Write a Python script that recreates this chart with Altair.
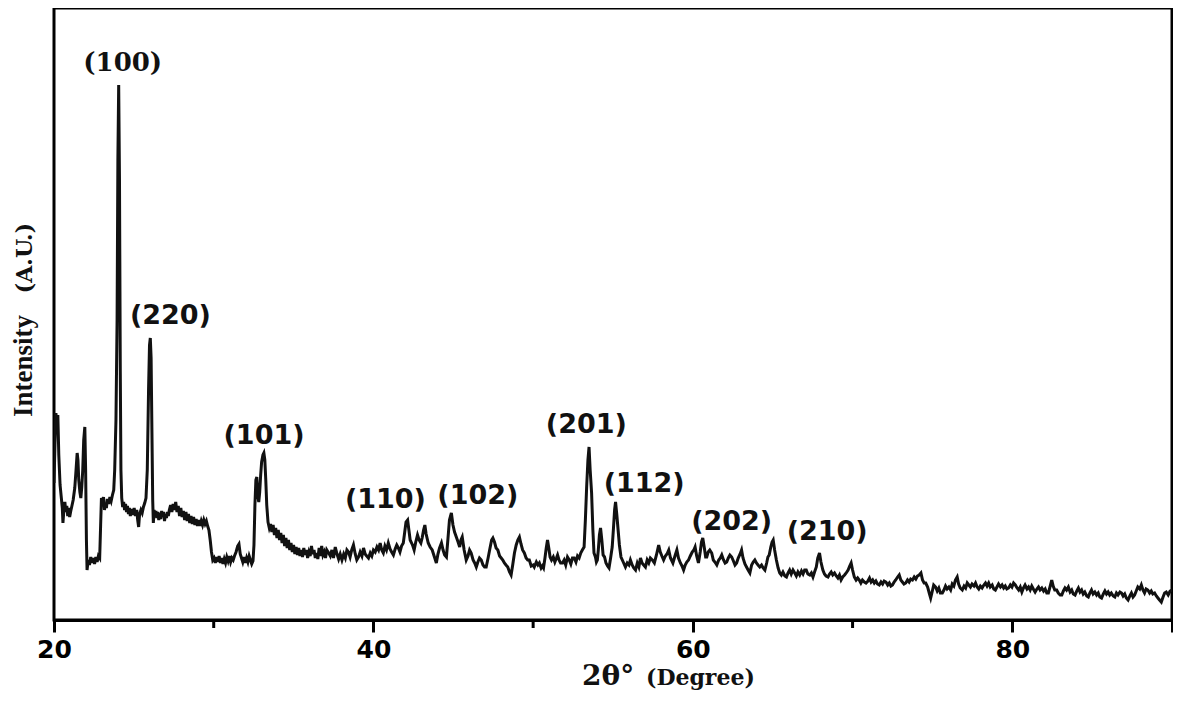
import altair as alt
import pandas as pd

# ---- XRD pattern (2theta in degrees, intensity in arbitrary units) ----
two_theta = [
    20.00, 20.06, 20.12, 20.18, 20.24, 20.30, 20.38, 20.46, 20.52, 20.56, 20.62, 20.68, 20.74, 20.80, 20.86, 20.92, 20.98,
    21.05, 21.12, 21.20, 21.30, 21.38, 21.45, 21.50, 21.55, 21.62, 21.68, 21.74, 21.80, 21.86, 21.93, 21.98,
    22.03, 22.07, 22.14, 22.22, 22.30, 22.38, 22.46, 22.54, 22.62, 22.70, 22.78, 22.86, 22.92, 22.97,
    23.04, 23.10, 23.16, 23.22, 23.28, 23.34, 23.42, 23.50, 23.58, 23.66, 23.74, 23.80, 23.88, 23.95, 24.00,
    24.05, 24.10, 24.15, 24.19, 24.24, 24.30, 24.36, 24.42, 24.48, 24.54, 24.60, 24.66, 24.72, 24.78, 24.86, 24.94,
    25.02, 25.10, 25.18, 25.24, 25.30, 25.36, 25.44, 25.52, 25.60, 25.68, 25.76, 25.84, 25.92, 25.98, 26.03,
    26.08, 26.13, 26.18, 26.22, 26.27, 26.32, 26.38, 26.44, 26.50, 26.56, 26.62, 26.68, 26.74, 26.80, 26.86, 26.92, 26.98,
    27.04, 27.10, 27.16, 27.22, 27.30, 27.38, 27.46, 27.54, 27.62, 27.70, 27.78, 27.86, 27.94,
    28.02, 28.10, 28.18, 28.26, 28.34, 28.42, 28.50, 28.58, 28.66, 28.74, 28.82, 28.90, 28.98,
    29.06, 29.14, 29.22, 29.30, 29.38, 29.46, 29.54, 29.62, 29.70, 29.78, 29.86, 29.94,
    30.02, 30.10, 30.18, 30.26, 30.34, 30.42, 30.50, 30.58, 30.66, 30.74, 30.82, 30.90, 30.98,
    31.06, 31.14, 31.22, 31.30, 31.40, 31.50, 31.58, 31.66, 31.74, 31.82, 31.90, 31.98,
    32.06, 32.14, 32.22, 32.30, 32.38, 32.46, 32.52, 32.58, 32.64, 32.70, 32.76, 32.82, 32.88, 32.94,
    33.00, 33.08, 33.14, 33.20, 33.26, 33.32, 33.40, 33.48, 33.56, 33.64, 33.72, 33.80, 33.88, 33.96,
    34.04, 34.12, 34.20, 34.28, 34.36, 34.44, 34.52, 34.60, 34.68, 34.76, 34.84, 34.92,
    35.00, 35.08, 35.16, 35.24, 35.32, 35.40, 35.48, 35.56, 35.64, 35.72, 35.80, 35.88, 35.96,
    36.04, 36.12, 36.20, 36.28, 36.36, 36.44, 36.52, 36.60, 36.68, 36.76, 36.84, 36.92,
    37.00, 37.08, 37.20, 37.30, 37.40, 37.50, 37.61, 37.72, 37.82, 37.92,
    38.03, 38.14, 38.24, 38.34, 38.44, 38.54, 38.64, 38.75, 38.86, 38.96,
    39.07, 39.17, 39.28, 39.38, 39.48, 39.58, 39.69, 39.80, 39.90,
    40.00, 40.11, 40.22, 40.32, 40.42, 40.52, 40.62, 40.72, 40.82, 40.93,
    41.04, 41.14, 41.25, 41.36, 41.46, 41.56, 41.66, 41.76, 41.87, 41.96,
    42.04, 42.14, 42.22, 42.30, 42.39, 42.47, 42.55, 42.65, 42.76, 42.86, 42.97,
    43.05, 43.14, 43.22, 43.30, 43.43, 43.55, 43.68, 43.80, 43.94,
    44.04, 44.14, 44.26, 44.36, 44.46, 44.57, 44.66, 44.76, 44.88, 44.98,
    45.08, 45.19, 45.30, 45.40, 45.48, 45.56, 45.68, 45.81, 45.92,
    46.02, 46.12, 46.24, 46.34, 46.44, 46.54, 46.64, 46.75, 46.86, 46.96,
    47.06, 47.18, 47.30, 47.40, 47.48, 47.58, 47.68, 47.79, 47.90,
    48.00, 48.10, 48.20, 48.30, 48.41, 48.52, 48.62, 48.72, 48.83, 48.94,
    49.04, 49.14, 49.24, 49.34, 49.45, 49.56, 49.66, 49.76, 49.88,
    50.00, 50.07, 50.20, 50.30, 50.39, 50.50, 50.58, 50.65, 50.74, 50.82, 50.90, 50.98,
    51.06, 51.15, 51.26, 51.36, 51.46, 51.53, 51.62, 51.72, 51.84, 51.94,
    52.04, 52.15, 52.26, 52.36, 52.46, 52.57, 52.68, 52.78, 52.88, 52.98,
    53.08, 53.19, 53.27, 53.35, 53.43, 53.50, 53.57, 53.66, 53.74, 53.81, 53.90, 53.96,
    54.02, 54.08, 54.15, 54.22, 54.30, 54.38, 54.47, 54.56, 54.66, 54.75, 54.85, 54.95,
    55.03, 55.10, 55.16, 55.24, 55.32, 55.40, 55.50, 55.64, 55.78, 55.89,
    56.00, 56.09, 56.20, 56.30, 56.41, 56.52, 56.62, 56.72, 56.82, 56.92,
    57.03, 57.14, 57.24, 57.34, 57.46, 57.59, 57.72, 57.86, 57.96,
    58.06, 58.17, 58.28, 58.38, 58.49, 58.60, 58.75, 58.88,
    59.00, 59.10, 59.22, 59.32, 59.42, 59.52, 59.62, 59.73, 59.84, 59.96,
    60.06, 60.14, 60.24, 60.35, 60.46, 60.54, 60.62, 60.72, 60.80, 60.87, 60.96,
    61.06, 61.18, 61.28, 61.38, 61.50, 61.62, 61.72, 61.81, 61.92,
    62.02, 62.12, 62.22, 62.32, 62.43, 62.54, 62.64, 62.74, 62.84, 62.96,
    63.05, 63.14, 63.26, 63.36, 63.46, 63.57, 63.68, 63.78, 63.88, 63.98,
    64.08, 64.19, 64.30, 64.40, 64.51, 64.62, 64.70, 64.78, 64.88, 64.96,
    65.03, 65.12, 65.23, 65.34, 65.44, 65.54, 65.64, 65.76, 65.86, 65.96,
    66.06, 66.16, 66.27, 66.38, 66.48, 66.58, 66.69, 66.80, 66.90,
    67.00, 67.10, 67.20, 67.32, 67.42, 67.52, 67.62, 67.73, 67.82, 67.93,
    68.02, 68.14, 68.24, 68.34, 68.46, 68.56, 68.66, 68.76, 68.87, 68.98,
    69.08, 69.18, 69.28, 69.38, 69.50, 69.60, 69.72, 69.82, 69.91,
    70.00, 70.11, 70.22, 70.32, 70.42, 70.52, 70.62, 70.74, 70.84, 70.96,
    71.06, 71.16, 71.26, 71.36, 71.46, 71.56, 71.67, 71.78, 71.88, 71.98,
    72.09, 72.20, 72.30, 72.40, 72.50, 72.60, 72.70, 72.82, 72.92,
    73.02, 73.12, 73.22, 73.33, 73.44, 73.54, 73.64, 73.75, 73.86, 73.96,
    74.06, 74.17, 74.28, 74.38, 74.48, 74.58, 74.70, 74.80, 74.89, 74.98,
    75.08, 75.20, 75.30, 75.40, 75.50, 75.62, 75.72, 75.82, 75.92,
    76.03, 76.14, 76.24, 76.34, 76.44, 76.55, 76.64, 76.74, 76.87, 76.98,
    77.08, 77.18, 77.28, 77.38, 77.48, 77.60, 77.70, 77.80, 77.90,
    78.00, 78.11, 78.22, 78.32, 78.42, 78.52, 78.62, 78.74, 78.84, 78.94,
    79.04, 79.14, 79.26, 79.36, 79.46, 79.56, 79.66, 79.77, 79.88, 79.98,
    80.08, 80.19, 80.30, 80.40, 80.50, 80.60, 80.70, 80.80, 80.92,
    81.02, 81.12, 81.22, 81.32, 81.43, 81.54, 81.64, 81.74, 81.85, 81.96,
    82.06, 82.16, 82.26, 82.36, 82.47, 82.56, 82.66, 82.78, 82.88,
    83.00, 83.10, 83.20, 83.30, 83.40, 83.51, 83.62, 83.72, 83.82, 83.93,
    84.04, 84.14, 84.24, 84.34, 84.44, 84.54, 84.66, 84.76, 84.86, 84.96,
    85.06, 85.17, 85.28, 85.38, 85.48, 85.59, 85.70, 85.80, 85.90,
    86.00, 86.10, 86.20, 86.32, 86.42, 86.52, 86.62, 86.74, 86.84, 86.94,
    87.04, 87.14, 87.25, 87.36, 87.46, 87.56, 87.66, 87.76, 87.86, 87.98,
    88.08, 88.18, 88.28, 88.38, 88.49, 88.60, 88.70, 88.80, 88.91,
    89.02, 89.12, 89.22, 89.33, 89.44, 89.54, 89.64, 89.76, 89.88, 90.00,
]

intensity = [
    137, 175, 207, 195, 205, 165, 135, 122, 112, 97, 110, 118, 108, 114, 104, 112, 103,
    109, 114, 120, 132, 150, 167, 160, 140, 128, 122, 133, 150, 180, 193, 150,
    80, 50, 60, 55, 63, 57, 62, 56, 63, 58, 64, 62, 95, 122,
    118, 123, 110, 117, 112, 121, 116, 123, 119, 125, 130, 150, 200, 300, 460,
    535, 440, 250, 150, 122, 113, 118, 110, 116, 108, 114, 106, 112, 104, 111, 105,
    112, 104, 110, 100, 93, 106, 110, 107, 113, 117, 122, 150, 230, 275, 282,
    262, 190, 120, 97, 110, 103, 109, 102, 108, 100, 107, 101, 109, 103, 108, 99, 106,
    102, 108, 104, 110, 115, 108, 116, 110, 118, 108, 114, 104, 112,
    103, 109, 100, 108, 99, 106, 97, 104, 96, 103, 95, 101, 94,
    100, 94, 99, 95, 100, 96, 99, 94, 90, 80, 68, 60,
    62, 57, 63, 58, 64, 57, 62, 56, 61, 57, 63, 59, 64,
    58, 62, 60, 64, 68, 74, 76, 66, 62, 58, 63, 57,
    62, 58, 64, 60, 56, 59, 75, 115, 140, 143, 125, 118, 128, 145,
    158, 165, 167, 160, 140, 115, 98, 92, 96, 88, 95, 85, 92, 82,
    90, 80, 87, 77, 85, 74, 82, 72, 80, 70, 77, 68,
    75, 66, 73, 65, 72, 64, 70, 63, 72, 65, 70, 62, 68,
    64, 74, 66, 70, 62, 67, 61, 72, 64, 74, 65, 68,
    62, 70, 67, 64, 70, 62, 73, 66, 61, 66,
    60, 66, 62, 70, 68, 63, 70, 75, 66, 60,
    63, 68, 64, 72, 66, 64, 62, 67, 64,
    70, 68, 73, 70, 77, 70, 67, 74, 70, 77,
    71, 68, 65, 71, 75, 72, 68, 74, 77, 88,
    98, 100, 90, 80, 77, 74, 70, 78, 85, 80, 77,
    82, 90, 95, 86, 77, 73, 70, 64, 57,
    66, 72, 77, 70, 65, 63, 80, 100, 107, 95,
    88, 83, 78, 73, 80, 83, 70, 60, 64,
    70, 67, 60, 57, 53, 58, 62, 60, 55, 53,
    53, 62, 72, 80, 82, 78, 72, 70, 64,
    62, 60, 57, 55, 53, 48, 45, 55, 67, 75,
    80, 83, 76, 70, 67, 62, 60, 60, 54,
    55, 53, 58, 55, 57, 52, 54, 52, 62, 72, 80, 72,
    63, 60, 63, 58, 62, 65, 60, 57, 57, 60,
    55, 63, 60, 56, 62, 62, 58, 64, 62, 67,
    70, 73, 100, 133, 160, 173, 150, 127, 90, 67, 63, 58,
    60, 70, 85, 92, 80, 65, 63, 57, 54, 52, 62, 73,
    92, 110, 118, 105, 90, 75, 63, 58, 53, 57,
    55, 60, 55, 52, 50, 57, 53, 62, 57, 55,
    53, 60, 57, 62, 60, 57, 65, 75, 68,
    64, 60, 64, 66, 70, 62, 57, 64,
    70, 62, 57, 54, 50, 55, 58, 60, 64, 68,
    70, 73, 64, 57, 68, 78, 82, 72, 63, 63, 68,
    70, 67, 60, 58, 55, 60, 62, 65, 60,
    57, 58, 62, 65, 63, 59, 55, 57, 62, 66,
    70, 62, 56, 53, 50, 47, 55, 58, 60, 57,
    55, 53, 55, 52, 50, 57, 63, 65, 73, 78,
    80, 70, 60, 52, 47, 45, 48, 44, 43, 47,
    50, 46, 50, 47, 44, 48, 45, 49, 46,
    50, 50, 46, 45, 47, 43, 48, 53, 62, 67,
    58, 50, 46, 44, 43, 46, 48, 45, 47, 44,
    42, 45, 40, 43, 45, 47, 50, 54, 57,
    50, 43, 40, 42, 40, 37, 40, 38, 37, 39,
    42, 38, 40, 37, 39, 36, 35, 38, 36, 39,
    38, 35, 37, 34, 35, 38, 40, 43, 45,
    40, 38, 36, 37, 40, 38, 41, 40, 43, 41,
    44, 45, 47, 40, 37, 37, 33, 27, 22, 28,
    35, 33, 29, 32, 27, 27, 30, 34, 31,
    33, 30, 36, 34, 40, 43, 36, 32, 30, 34,
    32, 37, 35, 33, 36, 34, 37, 33, 31,
    34, 32, 35, 37, 34, 37, 33, 35, 31, 30,
    33, 36, 33, 35, 32, 34, 31, 32, 35, 33,
    37, 35, 32, 30, 33, 28, 32, 35, 31,
    33, 30, 34, 31, 28, 31, 33, 30, 32, 29,
    31, 27, 27, 33, 40, 34, 30, 30, 27,
    25, 25, 29, 32, 30, 33, 28, 30, 26, 25,
    29, 32, 28, 30, 26, 28, 24, 23, 27, 30,
    26, 28, 25, 27, 23, 22, 26, 29, 26,
    28, 25, 27, 24, 23, 27, 25, 28, 27, 24,
    26, 22, 20, 24, 27, 23, 25, 29, 33, 31,
    35, 30, 27, 31, 30, 27, 29, 26, 27,
    24, 22, 20, 18, 23, 27, 28, 25, 29, 30,
]

# ---- Peak (hkl) annotations ----
peak_labels = ["(100)", "(220)", "(101)", "(110)", "(102)", "(201)", "(112)", "(202)", "(210)"]
peak_label_x = [24.30, 27.29, 33.15, 40.75, 46.54, 53.33, 56.95, 62.43, 68.41]
peak_label_y = [557, 304, 184, 120, 124, 195, 136, 98, 88]
peak_label_font = ["serif", "sans", "sans", "sans", "sans", "sans", "sans", "sans", "sans"]

major_ticks = [20, 40, 60, 80, 90]
minor_ticks = [30, 50, 70]

W, H = 1118, 612

df = pd.DataFrame({"two_theta": two_theta, "intensity": intensity})
labels_df = pd.DataFrame({"two_theta": peak_label_x, "intensity": peak_label_y,
                          "label": peak_labels, "font": peak_label_font})
minor_df = pd.DataFrame({"two_theta": minor_ticks})

x_scale = alt.Scale(domain=[20, 90], nice=False, zero=False)
y_scale = alt.Scale(domain=[0, H], nice=False, zero=False)
x_axis = alt.Axis(values=major_ticks, labelExpr="datum.value == 90 ? '' : datum.label",
                  title=None, grid=False, tickSize=12, tickWidth=3, tickColor="black",
                  domainWidth=3, domainColor="black", labelPadding=5,
                  labelFlush=False, labelOverlap=False,
                  labelFont="DejaVu Sans", labelFontWeight="bold", labelFontSize=25,
                  labelColor="black")

X = alt.X("two_theta:Q", scale=x_scale, axis=x_axis)
Y = alt.Y("intensity:Q", scale=y_scale, axis=None)

line = alt.Chart(df).mark_line(color="#111111", strokeWidth=3, clip=True).encode(x=X, y=Y)

sans_labels = alt.Chart(labels_df).transform_filter(alt.datum.font == "sans").mark_text(
    font="DejaVu Sans", fontWeight="bold", fontSize=27, color="#111111",
    align="center", baseline="middle").encode(x=X, y=Y, text="label:N")

serif_labels = alt.Chart(labels_df).transform_filter(alt.datum.font == "serif").mark_text(
    font="DejaVu Serif", fontWeight="bold", fontSize=26, color="#111111",
    align="center", baseline="middle").encode(x=X, y=Y, text="label:N")

minor = alt.Chart(minor_df).mark_rule(color="black", strokeWidth=3).encode(
    x=X, y=alt.value(H), y2=alt.value(H + 8))

def free_text(txt, x, y, font, size, angle=0, align="left"):
    return alt.Chart(pd.DataFrame({"t": [txt]})).mark_text(
        font=font, fontWeight="bold", fontSize=size, color="#111111", angle=angle,
        align=align, baseline="alphabetic").encode(x=alt.value(x), y=alt.value(y), text="t:N")

y_title_main = free_text("Intensity", -22, 358, "Liberation Serif", 27, angle=270, align="center")
y_title_unit = free_text("(A.U.)", -22, 250, "DejaVu Serif", 22, angle=270, align="center")
x_title_main = free_text("2θ°", 528, 677, "DejaVu Serif", 28)
x_title_unit = free_text("(Degree)", 592, 677, "DejaVu Serif", 22)

chart = alt.layer(line, minor, sans_labels, serif_labels,
                  y_title_main, y_title_unit, x_title_main, x_title_unit).properties(
    width=W, height=H,
    autosize=alt.AutoSizeParams(type="none"),
    padding={"left": 46, "top": 0, "right": 1, "bottom": 72},
).configure_view(stroke="black", strokeWidth=3)

chart.save("out.html", embed_options={"renderer": "svg", "actions": False})
